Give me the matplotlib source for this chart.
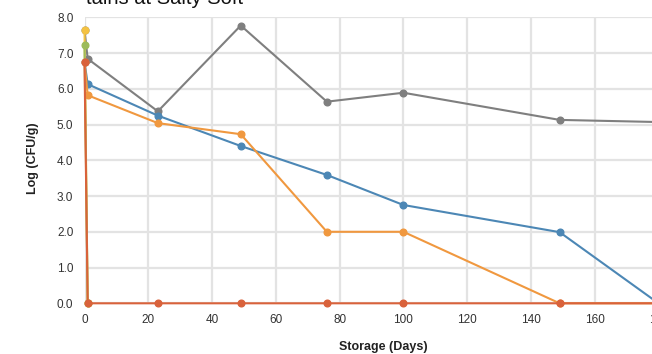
import matplotlib
matplotlib.use("Agg")
import matplotlib.pyplot as plt

plt.rcParams['font.family'] = ['Liberation Sans', 'DejaVu Sans']

days = [0, 1, 23, 49, 76, 100, 149, 180]
gray_vals = [7.65, 6.84, 5.37, 7.77, 5.64, 5.89, 5.13, 5.07]
blue_vals = [6.75, 6.13, 5.25, 4.40, 3.59, 2.75, 1.99, 0.0]
orange_vals = [6.75, 5.82, 5.04, 4.73, 2.0, 2.0, 0.0, 0.0]
yellow_vals = [7.65, 0.0]
green_vals = [7.22, 0.0]
red_vals = [6.75, 0.0, 0.0, 0.0, 0.0, 0.0, 0.0, 0.0]

title_text = "tains at Salty Soft"
xlabel = "Storage (Days)"
ylabel = "Log (CFU/g)"
xticks = [0, 20, 40, 60, 80, 100, 120, 140, 160, 180]
yticks = [0, 1, 2, 3, 4, 5, 6, 7, 8]

W, H = 652, 354
fig = plt.figure(figsize=(W / 100, H / 100), dpi=100)
left_px, right_px = 84.5, 658.5
top_px, bot_px = 17.3, 303.3
ax = fig.add_axes([left_px / W, 1 - bot_px / H, (right_px - left_px) / W, (bot_px - top_px) / H])
ax.set_xlim(0, 180)
ax.set_ylim(0, 8)

lw = 1.5
ms = 4.8
series = [
    (gray_vals, '#7f7f7f'),
    (yellow_vals, '#f4c242'),
    (green_vals, '#9dbb5a'),
    (blue_vals, '#4c87b5'),
    (orange_vals, '#f0983f'),
    (red_vals, '#d9623b'),
]
for vals, col in series:
    ax.plot(days[:len(vals)], vals, color=col, lw=lw, marker='o', ms=ms,
            clip_on=False, zorder=3)

ax.set_xticks(xticks)
ax.set_yticks(yticks)
ax.set_yticklabels([f"{v:.1f}" for v in yticks])
ax.tick_params(length=0, labelsize=8.5, colors='#333333', pad=8)
ax.grid(True, color='#e3e3e3', lw=1.6)
ax.set_axisbelow(True)
for s in ax.spines.values():
    s.set_visible(False)

fig.text(383 / W, 1 - 347 / H, xlabel, ha='center', va='center',
         fontsize=9, fontweight='bold', color='#222222')
fig.text(33 / W, 1 - 158 / H, ylabel, ha='center', va='center', rotation=90,
         fontsize=9, fontweight='bold', color='#222222')
fig.text(86 / W, 1 - 4 / H, title_text, ha='left', va='baseline',
         fontsize=14.5, color='#111111')

fig.savefig("out.png", dpi=100)
